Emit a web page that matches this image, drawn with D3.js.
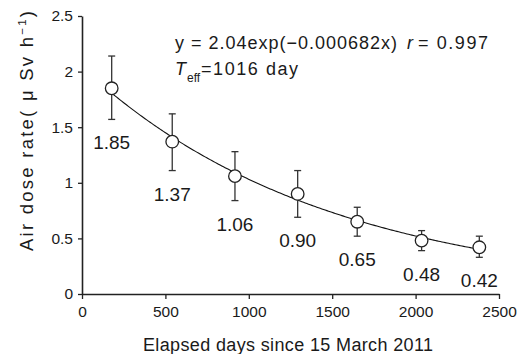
<!DOCTYPE html>
<html>
<head>
<meta charset="utf-8">
<script src="https://cdn.jsdelivr.net/npm/d3@7"></script>
<style>
  html, body { margin: 0; padding: 0; background: #fff; }
  svg { display: block; }
  text { font-family: "Liberation Sans", Arial, sans-serif; fill: #1a1a1a; }
</style>
</head>
<body>
<svg id="chart" width="518" height="354"></svg>
<script>
// ---- data ----
const days      = [178, 541, 917, 1293, 1650, 2036, 2382];
const doseRate  = [1.85, 1.37, 1.06, 0.90, 0.65, 0.48, 0.42];
const errUpper  = [2.14, 1.62, 1.28, 1.11, 0.78, 0.57, 0.52];
const errLower  = [1.57, 1.11, 0.84, 0.69, 0.52, 0.39, 0.33];
const xTicks    = [0, 500, 1000, 1500, 2000, 2500];
const yTicks    = [0, 0.5, 1, 1.5, 2, 2.5];
const yTickLabels = ["0", "0.5", "1", "1.5", "2", "2.5"];
const fitA = 2.04;
const fitK = 0.000682;

// ---- layout ----
const svg = d3.select("#chart");
const x = d3.scaleLinear().domain([0, 2500]).range([82, 499]);
const y = d3.scaleLinear().domain([0, 2.5]).range([294, 16]);
const axisColor = "#222";

// x axis
const gx = svg.append("g").attr("transform", `translate(0,${y(0)})`)
  .call(d3.axisBottom(x).tickValues(xTicks).tickFormat(d3.format("d"))
        .tickSizeInner(5).tickSizeOuter(0).tickPadding(7));
gx.select(".domain").attr("stroke", axisColor).attr("stroke-width", 1.6);
gx.selectAll(".tick line").attr("stroke", axisColor).attr("stroke-width", 1.3);
gx.selectAll(".tick text").attr("font-size", 15.5).attr("font-family", "Liberation Sans, Arial, sans-serif").attr("fill", "#1a1a1a");

// y axis
const gy = svg.append("g").attr("transform", `translate(${x(0)},0)`)
  .call(d3.axisLeft(y).tickValues(yTicks).tickFormat((d, i) => yTickLabels[i])
        .tickSizeInner(4).tickSizeOuter(0).tickPadding(5));
gy.select(".domain").attr("stroke", axisColor).attr("stroke-width", 1.6);
gy.selectAll(".tick line").attr("stroke", axisColor).attr("stroke-width", 1.3);
gy.selectAll(".tick text").attr("font-size", 15.5).attr("font-family", "Liberation Sans, Arial, sans-serif").attr("fill", "#1a1a1a");

// fitted curve
const curveX = d3.range(days[0], days[days.length - 1] + 1, 10);
const line = d3.line().x(d => x(d)).y(d => y(fitA * Math.exp(-fitK * d)));
svg.append("path").datum(curveX)
  .attr("d", line).attr("fill", "none").attr("stroke", "#111").attr("stroke-width", 1.1);

// error bars
const pts = days.map((d, i) => ({ d, v: doseRate[i], hi: errUpper[i], lo: errLower[i] }));
const eb = svg.append("g").attr("stroke", "#333").attr("stroke-width", 1.3);
eb.selectAll("line.v").data(pts).join("line")
  .attr("x1", p => x(p.d)).attr("x2", p => x(p.d))
  .attr("y1", p => y(p.hi)).attr("y2", p => y(p.lo));
eb.selectAll("line.t").data(pts).join("line")
  .attr("x1", p => x(p.d) - 3.5).attr("x2", p => x(p.d) + 3.5)
  .attr("y1", p => y(p.hi)).attr("y2", p => y(p.hi));
eb.selectAll("line.b").data(pts).join("line")
  .attr("x1", p => x(p.d) - 3.5).attr("x2", p => x(p.d) + 3.5)
  .attr("y1", p => y(p.lo)).attr("y2", p => y(p.lo));

// points
svg.append("g").selectAll("circle").data(pts).join("circle")
  .attr("cx", p => x(p.d)).attr("cy", p => y(p.v)).attr("r", 6.3)
  .attr("fill", "#fff").attr("stroke", "#222").attr("stroke-width", 1.3);

// value labels
svg.append("g").selectAll("text").data(pts).join("text")
  .attr("x", p => x(p.d)).attr("y", p => y(p.lo) + 30)
  .attr("text-anchor", "middle").attr("font-size", 19)
  .text(p => d3.format(".2f")(p.v));

// equation
svg.append("text").attr("x", 175).attr("y", 49).attr("font-size", 18)
  .attr("textLength", 222).attr("lengthAdjust", "spacing")
  .text("y = 2.04exp(\u22120.000682x)");
svg.append("text").attr("x", 407).attr("y", 49).attr("font-size", 18)
  .attr("font-style", "italic").text("r");
svg.append("text").attr("x", 418).attr("y", 49).attr("font-size", 18)
  .attr("textLength", 70).attr("lengthAdjust", "spacing").text("= 0.997");
svg.append("text").attr("x", 175).attr("y", 75).attr("font-size", 18)
  .attr("font-style", "italic").text("T");
svg.append("text").attr("x", 187).attr("y", 82).attr("font-size", 12).text("eff");
svg.append("text").attr("x", 201).attr("y", 75).attr("font-size", 18)
  .attr("textLength", 97).attr("lengthAdjust", "spacing").text("=1016 day");

// axis titles
svg.append("text").attr("x", 288).attr("y", 351).attr("font-size", 18)
  .attr("text-anchor", "middle").attr("textLength", 290).attr("lengthAdjust", "spacing")
  .text("Elapsed days since 15 March 2011");

const yt = svg.append("text")
  .attr("transform", "translate(33,131) rotate(-90)")
  .attr("text-anchor", "middle").attr("font-size", 18.5)
  .attr("textLength", 240).attr("lengthAdjust", "spacing");
yt.append("tspan").text("Air dose rate(\u00a0\u03bc\u00a0Sv h");
yt.append("tspan").attr("font-size", 11.5).attr("dy", -7).text("\u22121");
yt.append("tspan").attr("dy", 7).text(")");
</script>
</body>
</html>
